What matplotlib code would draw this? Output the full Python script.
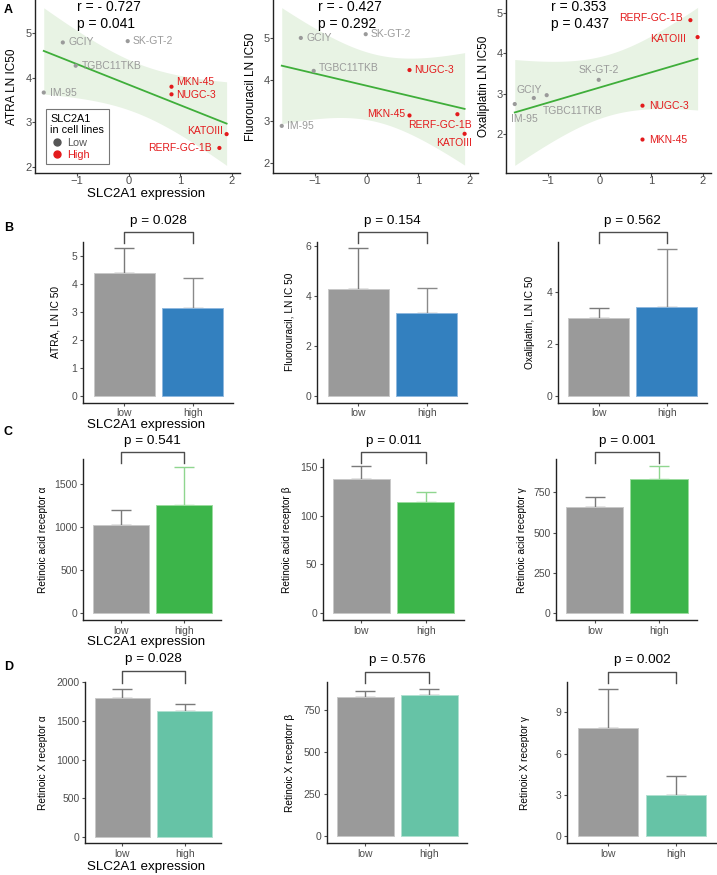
import numpy as np
import matplotlib
matplotlib.use('Agg')
import matplotlib.pyplot as plt
from matplotlib.lines import Line2D

plt.rcParams['font.family'] = ['Liberation Sans', 'DejaVu Sans']

# ---- data: panel A (cell lines) ----
cell_lines = ['IM-95', 'GCIY', 'TGBC11TKB', 'SK-GT-2', 'MKN-45', 'NUGC-3', 'RERF-GC-1B', 'KATOIII']
slc2a1_group = ['Low', 'Low', 'Low', 'Low', 'High', 'High', 'High', 'High']
slc2a1_expr = [-1.65, -1.28, -1.03, -0.02, 0.83, 0.83, 1.76, 1.90]
atra_ic50 = [3.67, 4.79, 4.27, 4.82, 3.80, 3.63, 2.43, 2.74]
fluorouracil_ic50 = [2.89, 5.00, 4.21, 5.09, 3.14, 4.23, 3.17, 2.70]
oxaliplatin_ic50 = [2.74, 2.89, 2.96, 3.34, 1.86, 2.70, 4.82, 4.40]
corr_r = ['r = - 0.727', 'r = - 0.427', 'r = 0.353']
corr_p = ['p = 0.041', 'p = 0.292', 'p = 0.437']
a_ylabels = ['ATRA LN IC50', 'Fluorouracil LN IC50', 'Oxaliplatin LN IC50']

# ---- data: panels B-D (low / high SLC2A1) ----
groups = ['low', 'high']
atra_mean, atra_sd = [4.38, 3.14], [0.88, 1.07]
fluoro_mean, fluoro_sd = [4.28, 3.30], [1.62, 1.02]
oxali_mean, oxali_sd = [2.98, 3.42], [0.41, 2.23]
rara_mean, rara_sd = [1023, 1256], [175, 449]
rarb_mean, rarb_sd = [137.5, 114.3], [12.8, 9.9]
rarg_mean, rarg_sd = [659, 835], [62, 76]
rxra_mean, rxra_sd = [1796, 1632], [117, 87]
rxrb_mean, rxrb_sd = [825, 841], [38, 32]
rxrg_mean, rxrg_sd = [7.89, 3.00], [2.78, 1.40]
bar_pvals = ['p = 0.028', 'p = 0.154', 'p = 0.562',
             'p = 0.541', 'p = 0.011', 'p = 0.001',
             'p = 0.028', 'p = 0.576', 'p = 0.002']
bar_ylabels = ['ATRA, LN IC 50', 'Fluorouracil, LN IC 50', 'Oxaliplatin, LN IC 50',
               'Retinoic acid receptor α', 'Retinoic acid receptor β', 'Retinoic acid receptor γ',
               'Retinoic X receptor α', 'Retinoic X receptorr β', 'Retinoic X receptor γ']

W, H = 717, 875
fig = plt.figure(figsize=(W / 100, H / 100), dpi=100)

GRAY_TXT = '#4d4d4d'
LOW_C = '#9a9a9a'
HIGH_C = '#e31a1c'
LINE_C = '#3fae3a'


def px_axes(left, top, right, bottom):
    return fig.add_axes([left / W, 1 - bottom / H, (right - left) / W, (bottom - top) / H])


def style(ax, size=7.5):
    for s in ['top', 'right']:
        ax.spines[s].set_visible(False)
    for s in ['left', 'bottom']:
        ax.spines[s].set_linewidth(1.0)
        ax.spines[s].set_color('#222222')
    ax.tick_params(labelsize=size, labelcolor=GRAY_TXT, color=GRAY_TXT, length=2.5, pad=1.5, width=0.8)


# ---------------- Row A ----------------
a_boxes = [(35, 0, 240, 173), (273, 0, 478, 173), (506, 0, 711, 173)]
a_ylims = [(1.87, 5.74), (1.76, 5.91), (1.03, 5.32)]
a_text_x = [0.203, 0.218, 0.218]
a_ylab_x = [-0.083, -0.08, -0.078]
# label offsets in px (dx, dy, ha), dy positive = down
a_offsets = [
    {'IM-95': (6, 0, 'left'), 'GCIY': (6, 0, 'left'), 'TGBC11TKB': (6, 0, 'left'),
     'SK-GT-2': (5, 0, 'left'), 'MKN-45': (5, -5, 'left'), 'NUGC-3': (5, 0.7, 'left'),
     'RERF-GC-1B': (-8, 0, 'right'), 'KATOIII': (-3.5, -3, 'right')},
    {'IM-95': (5, 0, 'left'), 'GCIY': (5.5, 0, 'left'), 'TGBC11TKB': (5.5, -2.7, 'left'),
     'SK-GT-2': (5, 0, 'left'), 'MKN-45': (-4, -1.7, 'right'), 'NUGC-3': (5, 0, 'left'),
     'RERF-GC-1B': (-17, 10.7, 'center'), 'KATOIII': (7, 8.7, 'right')},
    {'IM-95': (10, 15, 'center'), 'GCIY': (-4.3, -8.3, 'center'), 'TGBC11TKB': (-4, 16, 'left'),
     'SK-GT-2': (0, -10, 'center'), 'MKN-45': (6.3, 0, 'left'), 'NUGC-3': (6.3, 0, 'left'),
     'RERF-GC-1B': (-7.3, -1.7, 'right'), 'KATOIII': (-11.7, 1.7, 'right')},
]
drugs = [atra_ic50, fluorouracil_ic50, oxaliplatin_ic50]
x = np.array(slc2a1_expr)
t975 = 2.446912  # t quantile, df = 6

for i in range(3):
    ax = px_axes(*a_boxes[i])
    style(ax, size=8)
    ax.tick_params(length=2, pad=0.5)
    y = np.array(drugs[i])
    b, a = np.polyfit(x, y, 1)
    xs = np.linspace(x.min(), x.max(), 100)
    fit = a + b * xs
    res = y - (a + b * x)
    s = np.sqrt(np.sum(res ** 2) / (len(x) - 2))
    se = s * np.sqrt(1 / len(x) + (xs - x.mean()) ** 2 / np.sum((x - x.mean()) ** 2))
    ax.fill_between(xs, fit - t975 * se, fit + t975 * se, color='#e8f3e4', lw=0, zorder=1)
    ax.plot(xs, fit, color=LINE_C, lw=1.3, zorder=2)
    cols = [LOW_C if g == 'Low' else HIGH_C for g in slc2a1_group]
    ax.scatter(x, y, s=9, c=cols, zorder=3, lw=0)
    for name, xi, yi, c in zip(cell_lines, x, y, cols):
        dx, dy, ha = a_offsets[i][name]
        ax.annotate(name, (xi, yi), xytext=(dx * 0.72, -dy * 0.72), textcoords='offset points',
                    ha=ha, va='center', fontsize=7.5, color=c, zorder=4)
    ax.set_xlim(-1.82, 2.16)
    ax.set_ylim(*a_ylims[i])
    ax.set_xticks([-1, 0, 1, 2])
    ax.set_yticks([2, 3, 4, 5])
    ax.text(a_text_x[i], 0.962, corr_r[i], transform=ax.transAxes, fontsize=10, va='center')
    ax.text(a_text_x[i], 0.861, corr_p[i], transform=ax.transAxes, fontsize=10, va='center')
    ax.set_ylabel(a_ylabels[i], fontsize=8.5)
    ax.yaxis.set_label_coords(a_ylab_x[i], 0.5)
    if i == 0:
        handles = [Line2D([], [], marker='o', ls='', color='#555555', markersize=5),
                   Line2D([], [], marker='o', ls='', color=HIGH_C, markersize=5)]
        leg = ax.legend(handles, ['Low', 'High'], title='SLC2A1\nin cell lines', loc='lower left',
                        bbox_to_anchor=(0.054, 0.052), borderaxespad=0, fontsize=7.8,
                        title_fontsize=7.8, fancybox=False, edgecolor='#555555',
                        handletextpad=0.3, handlelength=1.2, alignment='left',
                        borderpad=0.4, labelspacing=0.2)
        leg.get_frame().set_linewidth(0.8)
        leg.get_texts()[0].set_color('#555555')
        leg.get_texts()[1].set_color(HIGH_C)

# ---------------- Rows B-D ----------------
bar_boxes = [(83, 241.7, 233, 402.7), (317, 241.7, 467, 402.7), (557.7, 241.7, 707, 402.7),
             (83.3, 459.3, 220.6, 620), (322.7, 459.3, 463.5, 620), (556, 459.3, 697, 620),
             (85, 681.7, 221.4, 843.3), (326.7, 682.3, 467, 843.3), (567.3, 682.3, 716, 843.3)]
means = [atra_mean, fluoro_mean, oxali_mean, rara_mean, rarb_mean, rarg_mean,
         rxra_mean, rxrb_mean, rxrg_mean]
sds = [atra_sd, fluoro_sd, oxali_sd, rara_sd, rarb_sd, rarg_sd, rxra_sd, rxrb_sd, rxrg_sd]
ylims = [(-0.25, 5.5), (-0.28, 6.16), (-0.26, 5.92),
         (-78, 1790), (-6.8, 157.5), (-41, 954),
         (-87, 2010), (-43.6, 915), (-0.53, 11.18)]
yticks = [[0, 1, 2, 3, 4, 5], [0, 2, 4, 6], [0, 2, 4],
          [0, 500, 1000, 1500], [0, 50, 100, 150], [0, 250, 500, 750],
          [0, 500, 1000, 1500, 2000], [0, 250, 500, 750], [0, 3, 6, 9]]
ylab_off = [23, 22, 22.7, 35, 31, 29.3, 36.7, 31.7, 37.3]
row_color = ['#3380bf', '#3cb54a', '#66c3a6']
row_edge = ['#8fb8de', '#9bdc9f', '#b0e0d0']
row_err = [['#7a7a7a', '#8a8a8a'], ['#7a7a7a', '#8fd68f'], ['#7a7a7a', '#7a7a7a']]
row_bracket = [(1.058, 0.99, 1.13), (1.045, 0.975, 1.115), (1.065, 0.995, 1.14)]
pos = np.arange(1, len(groups) + 1)

for k in range(9):
    r = k // 3
    box = bar_boxes[k]
    ax = px_axes(*box)
    style(ax)
    ax.bar(pos, means[k], width=0.89, color=[LOW_C, row_color[r]],
           edgecolor=['#c8c8c8', row_edge[r]], lw=0.7, zorder=2)
    for j in range(2):
        ax.errorbar(pos[j], means[k][j], yerr=[[0], [sds[k][j]]], fmt='none',
                    ecolor=row_err[r][j], elinewidth=1, capsize=7, capthick=1, zorder=1)
    ax.set_xlim(0.4, 2.59)
    ax.set_ylim(*ylims[k])
    ax.set_yticks(yticks[k])
    ax.set_xticks(pos)
    ax.set_xticklabels(groups)
    ax.set_ylabel(bar_ylabels[k], fontsize=7.3)
    ax.yaxis.set_label_coords(-ylab_off[k] / (box[2] - box[0]), 0.5)
    yb, yt, ytx = row_bracket[r]
    tr = ax.get_xaxis_transform()
    ax.plot([1, 1, 2, 2], [yt, yb, yb, yt], color='#4d4d4d', lw=1, transform=tr, clip_on=False)
    ax.text(1.5, ytx, bar_pvals[k], transform=tr, ha='center', va='center', fontsize=9.7)

# x-axis titles and panel letters
for yy in [194, 425, 641.7, 867.3]:
    fig.text(146.5 / W, 1 - yy / H, 'SLC2A1 expression', ha='center', va='center', fontsize=9.6)
for lab, yy in [('A', 10), ('B', 228), ('C', 432), ('D', 667)]:
    fig.text(4 / W, 1 - yy / H, lab, ha='left', va='center', fontsize=9, weight='bold')

fig.savefig('out.png', dpi=100)
